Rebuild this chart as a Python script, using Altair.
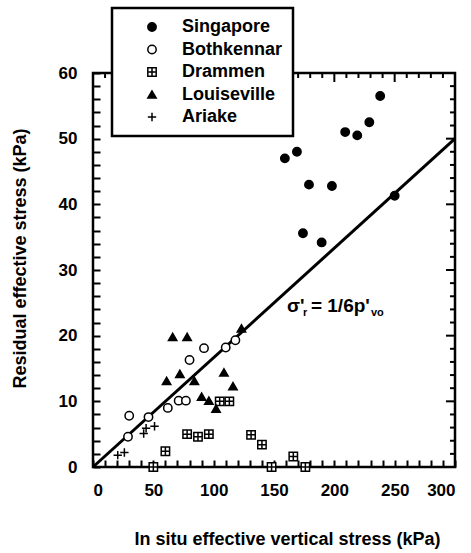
import altair as alt
import pandas as pd

FONT = "Liberation Sans"

sites = ["Singapore", "Bothkennar", "Drammen", "Louiseville", "Ariake"]

sing_x = [159, 169, 179, 198, 174, 189.5, 209, 219, 229, 238, 250]
sing_y = [47, 48, 43, 42.8, 35.6, 34.2, 51, 50.5, 52.5, 56.5, 41.3]
both_x = [29, 30, 46, 62, 71, 77, 80, 92, 110, 118]
both_y = [4.6, 7.8, 7.6, 9.0, 10.1, 10.1, 16.3, 18.1, 18.2, 19.3]
dram_x = [50, 60, 78, 87, 96, 105, 113, 131, 140, 148, 166, 176]
dram_y = [0, 2.4, 5, 4.6, 5, 10, 10, 4.9, 3.4, 0, 1.6, 0]
loui_x = [66, 78, 61, 72, 84, 108.5, 116, 90, 96, 102, 123]
loui_y = [19.8, 19.8, 13.1, 14.2, 13.1, 14.4, 12.3, 10.7, 10.1, 8.9, 21.1]
ari_x = [20.5, 26, 42, 44, 51]
ari_y = [1.8, 2.2, 5.1, 5.9, 6.2]

line_x = [0, 300]
line_y = [0, 50]

x_ticks = list(range(0, 301, 10))
y_ticks = list(range(0, 61, 2))
x_major_ticks = [0, 50, 100, 150, 200, 250, 300]
x_minor_ticks = [10, 20, 30, 40, 60, 70, 80, 90, 110, 120, 130, 140, 160, 170, 180, 190,
                 210, 220, 230, 240, 260, 270, 280, 290]
y_major_ticks = [0, 10, 20, 30, 40, 50, 60]
y_minor_ticks = [2, 4, 6, 8, 12, 14, 16, 18, 22, 24, 26, 28, 32, 34, 36, 38,
                 42, 44, 46, 48, 52, 54, 56, 58]

ann_x = [160.7]
ann_y = [24.5]

shapes = ["circle", "circle", "M-1,-1H1V1H-1Z M0,-1V1 M-1,0H1", "triangle-up", "M-1,0H1 M0,-1V1"]
fills = ["black", "white", "white", "black", "white"]
strokes = ["black", "black", "black", "black", "black"]

W, H = 362, 394
X0, X1, Y0, Y1 = 0, 300, 0, 60
MAJ, MIN, TK = 9, 5, 7   # tick lengths in pixels

rows = []
for name, xs, ys in [("Singapore", sing_x, sing_y), ("Bothkennar", both_x, both_y),
                     ("Drammen", dram_x, dram_y), ("Louiseville", loui_x, loui_y),
                     ("Ariake", ari_x, ari_y)]:
    for a, b in zip(xs, ys):
        rows.append({"x": a, "y": b, "site": name})
for v in x_major_ticks:
    rows.append({"x": v, "y": Y1, "site": "tt_major"})
for v in x_minor_ticks:
    rows.append({"x": v, "y": Y1, "site": "tt_minor"})
for v in y_major_ticks:
    rows.append({"x": X1, "y": v, "site": "tr_major"})
for v in y_minor_ticks:
    rows.append({"x": X1, "y": v, "site": "tr_minor"})
table = pd.DataFrame(rows)
line_df = pd.DataFrame({"x": line_x, "y": line_y})
ann_df = pd.DataFrame({"x": ann_x, "y": ann_y})

XS = alt.Scale(domain=[X0, X1], nice=False, zero=False)
YS = alt.Scale(domain=[Y0, Y1], nice=False, zero=False)

# bottom / left axes: inward ticks (negative size via expression), labels on majors only
X_AX = alt.Axis(orient="bottom", values=x_ticks, ticks=True, tickSize={"expr": f"-{TK}"},
                tickWidth=2, tickColor="black",
                labelExpr="datum.value % 50 === 0 ? datum.label : ''", labelOverlap=False,
                domain=False, grid=False, labelFont=FONT, labelFontSize=17,
                labelFontWeight="bold", labelColor="black", labelPadding=15 + TK,
                title="In situ effective vertical stress (kPa)",
                titleFont=FONT, titleFontSize=18, titleFontWeight="bold",
                titleColor="black", titleX=194, titleY=72, titleBaseline="middle")
Y_AX = alt.Axis(orient="left", values=y_ticks, ticks=True, tickSize={"expr": f"-{TK}"},
                tickWidth=2, tickColor="black",
                labelExpr="datum.value % 10 === 0 ? datum.label : ''", labelOverlap=False,
                domain=False, grid=False, labelFont=FONT, labelFontSize=17,
                labelFontWeight="bold", labelColor="black", labelPadding=16 + TK,
                title="Residual effective stress (kPa)",
                titleFont=FONT, titleFontSize=18, titleFontWeight="bold",
                titleColor="black", titleX=-73, titleY=185, titleBaseline="middle",
                titleAngle=270)

enc = dict(x=alt.X("x:Q", scale=XS, axis=X_AX), y=alt.Y("y:Q", scale=YS, axis=Y_AX))

# top / right inward ticks as short line symbols on the frame edges
tick_specs = [("tt_major", "M0,0L0,2", MAJ), ("tt_minor", "M0,0L0,2", MIN),
              ("tr_major", "M0,0L-2,0", MAJ), ("tr_minor", "M0,0L-2,0", MIN)]
tick_layers = [
    alt.Chart(table).transform_filter(alt.datum.site == key).mark_point(
        shape=path, size=length * length, filled=False, color="black",
        strokeWidth=2, opacity=1
    ).encode(**enc)
    for key, path, length in tick_specs
]

line = alt.Chart(line_df).mark_line(color="black", strokeWidth=3).encode(**enc)

ann_base = alt.Chart(ann_df).encode(**enc)
ann1 = ann_base.mark_text(text="σ'", align="left", baseline="middle", font=FONT,
                          fontSize=19, fontWeight="bold", color="black")
ann2 = ann_base.mark_text(text="r", align="left", baseline="middle", font=FONT,
                          fontSize=11, fontWeight="bold", color="black", dx=16, dy=7)
ann3 = ann_base.mark_text(text="= 1/6p'", align="left", baseline="middle", font=FONT,
                          fontSize=19, fontWeight="bold", color="black", dx=24)
ann4 = ann_base.mark_text(text="vo", align="left", baseline="middle", font=FONT,
                          fontSize=11, fontWeight="bold", color="black", dx=84, dy=7)

legend = alt.Legend(orient="none", legendX=19, legendY=-65, title=None,
                    labelFont=FONT, labelFontSize=18, labelFontWeight="bold",
                    labelColor="black", symbolSize=70, symbolStrokeWidth=1.5,
                    padding=10, rowPadding=4.5, symbolOffset=21, labelOffset=21,
                    strokeColor="black", fillColor="white")

points = alt.Chart(table).transform_filter(
    alt.FieldOneOfPredicate(field="site", oneOf=sites)
).mark_point(size=70, strokeWidth=1.5, opacity=1, filled=False).encode(
    shape=alt.Shape("site:N", scale=alt.Scale(domain=sites, range=shapes), legend=legend),
    fill=alt.Fill("site:N", scale=alt.Scale(domain=sites, range=fills), legend=legend),
    stroke=alt.Stroke("site:N", scale=alt.Scale(domain=sites, range=strokes), legend=legend),
    **enc,
)

chart = alt.layer(*tick_layers, line, ann1, ann2, ann3, ann4, points).properties(
    width=W, height=H,
    autosize=alt.AutoSizeParams(type="none"),
    padding={"left": 93, "top": 73, "right": 16, "bottom": 86},
    background="white",
).configure_view(
    stroke="black", strokeWidth=2.5
).configure_legend(
    strokeWidth=2.5
)

chart.save("out.html", embed_options={"renderer": "svg", "actions": False})
